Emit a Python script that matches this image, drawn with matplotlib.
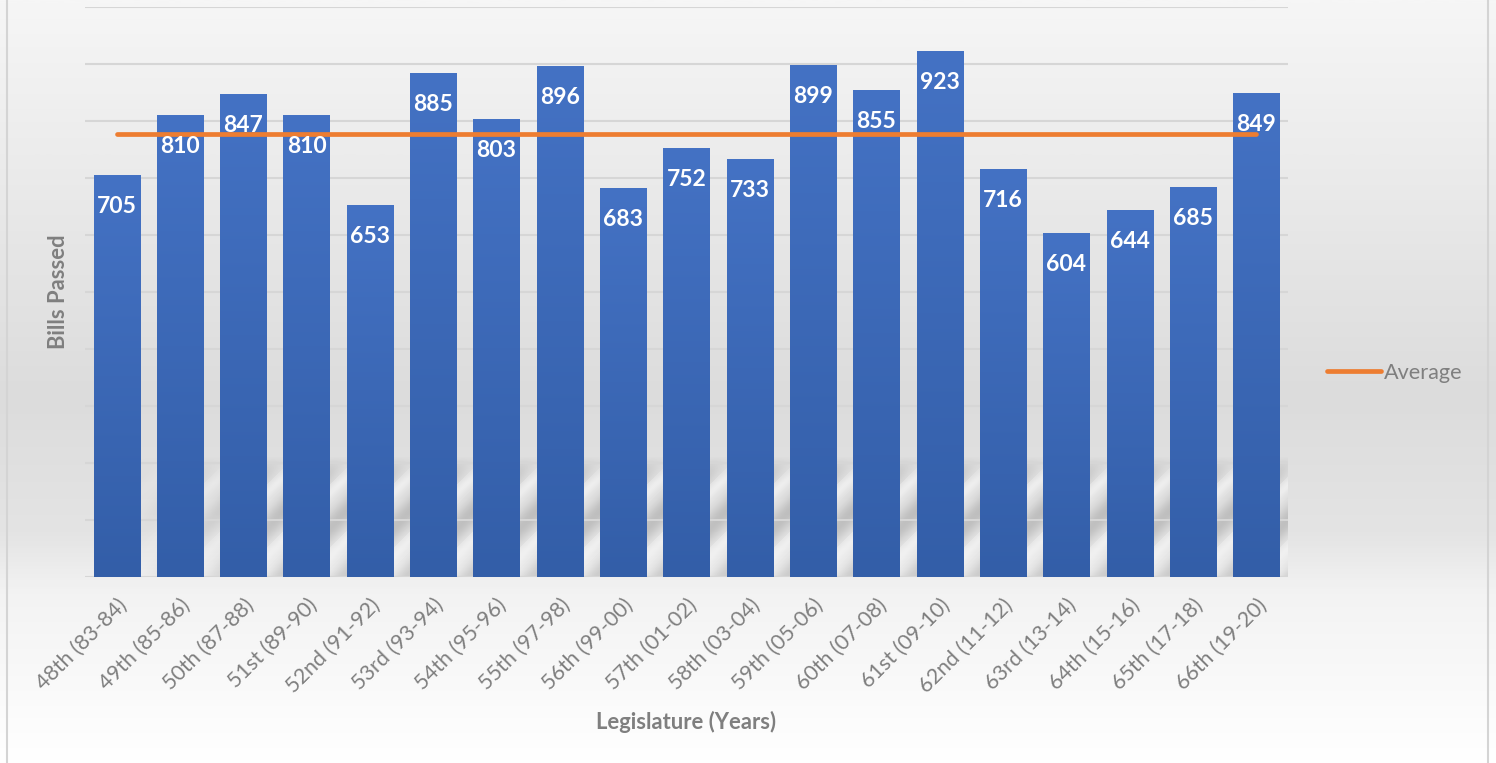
import numpy as np
import matplotlib
matplotlib.use("Agg")
import matplotlib.pyplot as plt
from matplotlib.colors import LinearSegmentedColormap
from matplotlib.lines import Line2D

# ---- data ----
categories = ["48th (83-84)", "49th (85-86)", "50th (87-88)", "51st (89-90)",
              "52nd (91-92)", "53rd (93-94)", "54th (95-96)", "55th (97-98)",
              "56th (99-00)", "57th (01-02)", "58th (03-04)", "59th (05-06)",
              "60th (07-08)", "61st (09-10)", "62nd (11-12)", "63rd (13-14)",
              "64th (15-16)", "65th (17-18)", "66th (19-20)"]
bills_passed = [705, 810, 847, 810, 653, 885, 803, 896, 683, 752, 733, 899,
                855, 923, 716, 604, 644, 685, 849]
average_label = "Average"
x_title = "Legislature (Years)"
y_title = "Bills Passed"

plt.rcParams['font.family'] = ['Lato', 'DejaVu Sans']

W, H = 1496, 763
fig = plt.figure(figsize=(W / 100, H / 100), dpi=100)

# ---- figure background gradient ----
bg = fig.add_axes([0, 0, 1, 1], zorder=-10)
bg.set_axis_off()
bg_cmap = LinearSegmentedColormap.from_list(
    "bg", [(0.0, "#f6f6f6"), (0.52, "#dcdcdc"), (0.70, "#e4e4e4"),
           (0.78, "#f3f3f3"), (1.0, "#ffffff")])
grad = np.linspace(0, 1, 400).reshape(-1, 1)
bg.imshow(grad, aspect='auto', cmap=bg_cmap, extent=(0, 1, 0, 1),
          origin='upper', vmin=0, vmax=1)
bg.set_xlim(0, 1)
bg.set_ylim(0, 1)
for xb in (6.5 / W, 1487.5 / W):
    fig.add_artist(Line2D([xb, xb], [0, 1], transform=fig.transFigure,
                          color="#d4d4d4", lw=1.5, zorder=-5))

# ---- main axes ----
left, right = 85 / W, 1288 / W
bottom, top = (H - 577) / H, (H - 7) / H
ax = fig.add_axes([left, bottom, right - left, top - bottom])
ax.patch.set_alpha(0)
n = len(categories)
x = np.arange(n)

for s in ax.spines.values():
    s.set_visible(False)
ax.set_yticks(np.arange(100, 1001, 100))
ax.tick_params(axis='y', left=False, labelleft=False)
ax.yaxis.grid(True, color="#d6d6d6", lw=1.5, zorder=0)
ax.set_axisbelow(True)
ax.axhline(0, color="#d6d6d6", lw=1.5, zorder=1)

# ---- floor shadow texture ----
axw_px, axh_px = 1203, 570
sh_h = 120
px = np.arange(axw_px)[None, :]
py = np.arange(sh_h)[::-1][:, None]  # upward pixels
period = axw_px / n
phase = ((px - 1.0 * py) / period) % 1.0
dark = (0.5 + 0.5 * np.cos(2 * np.pi * (phase - 0.10))) ** 1.6
light = np.clip(np.cos(2 * np.pi * (phase - 0.55)), 0, 1) ** 4
env_v = np.clip((sh_h - py) / 25.0, 0, 1) * np.clip(0.75 + py / 400.0, 0, 1)
env_h = np.clip((px - 40) / 160.0, 0, 1)
shadow = np.zeros((sh_h, axw_px, 4))
shadow[..., :3] = np.where(light > dark, 1.0, 0.5)[..., None]
shadow[..., 3] = np.where(light > dark, 0.45 * light, 0.40 * dark) * env_v * env_h
ax.imshow(shadow, extent=(0, 1, 0, sh_h / axh_px), transform=ax.transAxes,
          aspect='auto', zorder=0.5, interpolation='bilinear')

# ---- gradient bars ----
bar_w = 0.73
bars = ax.bar(x, bills_passed, width=bar_w, color="#3f6abb", zorder=2)
bar_cmap = LinearSegmentedColormap.from_list("bar", ["#4472c4", "#335ea8"])
g = np.linspace(0, 1, 256).reshape(-1, 1)
for b in bars:
    bx, bw, bh = b.get_x(), b.get_width(), b.get_height()
    im = ax.imshow(g, cmap=bar_cmap, aspect='auto', origin='upper',
                   extent=(bx, bx + bw, 0, bh), zorder=2.5)
    im.set_clip_path(b)
ax.set_xlim(-0.5, n - 0.5)
ax.set_ylim(0, 1000)

# ---- value labels ----
for xi, v in zip(x, bills_passed):
    ax.annotate(str(v), (xi, v), xytext=(0, -27.4), textcoords='offset points',
                ha='center', va='baseline', color='white', fontsize=16.5,
                fontweight='bold', zorder=5)

# ---- average line ----
avg = float(np.mean(bills_passed))
avg_line, = ax.plot([x[0], x[-1]], [avg, avg], color="#ed7d31", lw=3.4,
                    solid_capstyle='round', zorder=4, label=average_label)

# ---- ticks / titles ----
ax.set_xticks(x)
ax.set_xticklabels(categories, rotation=45, ha='right', rotation_mode='anchor',
                   fontsize=15.5, color="#7f7f7f")
ax.tick_params(axis='x', length=0, pad=13)
ax.set_xlabel(x_title, fontsize=15.8, fontweight='bold', color="#7f7f7f")
ax.xaxis.set_label_coords(0.5, ((H - 711) / H - bottom) / (top - bottom))
ax.set_ylabel(y_title, fontsize=15.8, fontweight='bold', color="#7f7f7f")
ax.yaxis.set_label_coords((69 - 85) / 1203, 0.5)

leg = fig.legend(handles=[avg_line], labels=[average_label], loc='center left',
                 bbox_to_anchor=(1307 / W, (H - 373) / H), frameon=False,
                 fontsize=15.6, handlelength=2.5, handletextpad=0.15,
                 labelcolor="#7f7f7f")

fig.savefig("out.png", dpi=100)
